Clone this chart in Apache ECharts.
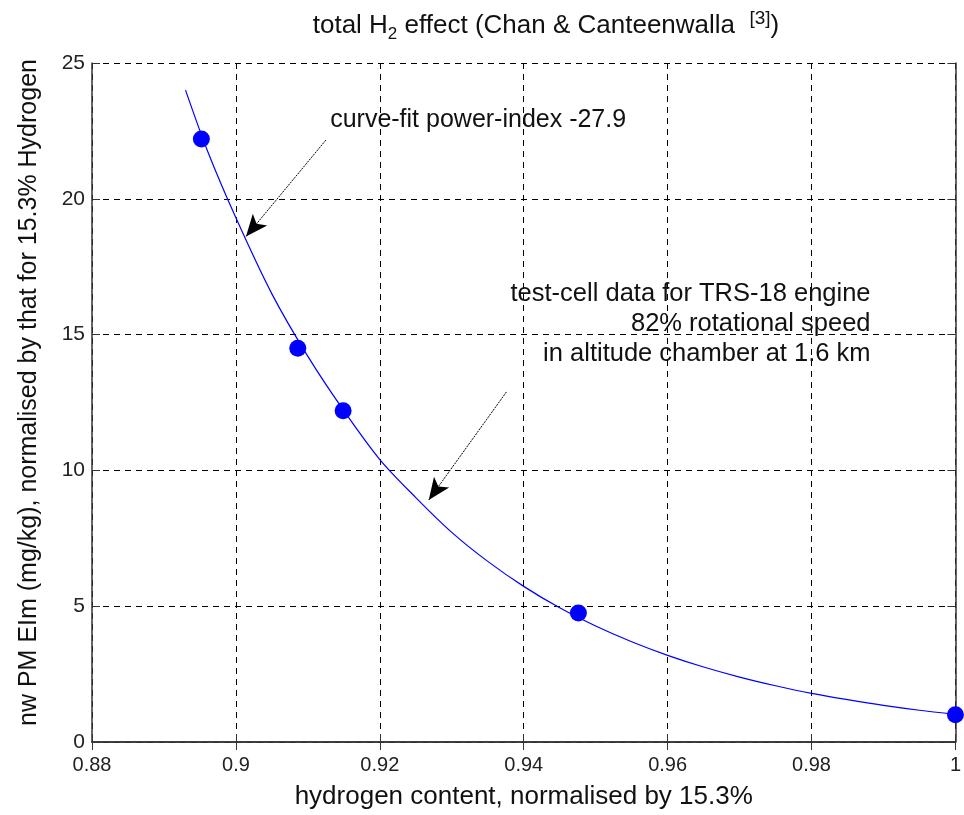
<!DOCTYPE html>
<html>
<head>
<meta charset="utf-8">
<script src="https://cdn.jsdelivr.net/npm/echarts@6/dist/echarts.min.js"></script>
<style>
  html, body { margin: 0; padding: 0; background: #fff; }
  #chart { width: 964px; height: 815px; }
</style>
</head>
<body>
<div id="chart"></div>
<script>
// Test-cell measurements: hydrogen content (normalised) vs normalised PM EI
const hydrogenData = [0.8952, 0.9086, 0.9149, 0.9476, 1.0];
const pmData = [22.2, 14.5, 12.2, 4.75, 1.0];

// Power-law curve fit, as plotted
const fitX = [0.893, 0.896, 0.9, 0.905, 0.91, 0.915, 0.92, 0.925, 0.93, 0.935, 0.94, 0.945,
              0.95, 0.955, 0.96, 0.965, 0.97, 0.975, 0.98, 0.985, 0.99, 0.995, 1.0];
const fitY = [24.0, 21.8, 19.3, 16.5, 14.2, 12.2, 10.4, 9.0, 7.72, 6.65, 5.73, 4.94,
              4.27, 3.69, 3.19, 2.76, 2.39, 2.07, 1.79, 1.56, 1.35, 1.17, 1.02];

const xTicks = [0.88, 0.9, 0.92, 0.94, 0.96, 0.98, 1];
const yTicks = [0, 5, 10, 15, 20, 25];

// Annotation arrows: [start, end] in data units
const fitArrow = [[0.9125, 22.16], [0.9014, 18.61]];
const dataArrow = [[0.9376, 12.89], [0.9268, 8.91]];

const chart = echarts.init(document.getElementById('chart'));

const textFont = "'Liberation Sans', Arial, sans-serif";

const gridDash = { color: '#000', width: 1, type: [6, 5] };
const frame = { show: true, lineStyle: { color: '#333', width: 1.5 } };
const innerTick = { show: true, inside: true, length: 8, lineStyle: { color: '#333' } };

function zip(a, b) { return a.map((v, i) => [v, b[i]]); }

const option = {
  animation: false,
  backgroundColor: '#fff',
  title: {
    text: 'total H{sub|2} effect (Chan & Canteenwalla  {sup|[3]})',
    left: 541,
    textAlign: 'center',
    top: 4,
    textStyle: {
      fontFamily: textFont,
      fontSize: 26,
      fontWeight: 'normal',
      color: '#111',
      lineHeight: 34,
      rich: {
        sub: { fontFamily: textFont, fontSize: 17, color: '#111', verticalAlign: 'bottom', lineHeight: 34, padding: [13, 0, 0, 0] },
        sup: { fontFamily: textFont, fontSize: 19, color: '#111', verticalAlign: 'top', lineHeight: 34, padding: [0, 0, 6, 0] }
      }
    }
  },
  grid: { left: 92, top: 63, right: 6, bottom: 73, containLabel: false },
  xAxis: [{
    type: 'value',
    min: xTicks[0],
    max: xTicks[xTicks.length - 1],
    interval: 0.02,
    name: 'hydrogen content, normalised by 15.3%',
    nameLocation: 'middle',
    nameGap: 42,
    nameTextStyle: { fontFamily: textFont, fontSize: 26, color: '#111' },
    axisLine: frame,
    axisTick: innerTick,
    axisLabel: { fontFamily: textFont, fontSize: 20, color: '#222', margin: 13 },
    splitLine: { show: true, lineStyle: gridDash }
  }, {
    type: 'value',
    position: 'top',
    min: xTicks[0],
    max: xTicks[xTicks.length - 1],
    interval: 0.02,
    axisLine: frame,
    axisTick: innerTick,
    axisLabel: { show: false },
    splitLine: { show: false }
  }],
  yAxis: [{
    type: 'value',
    min: yTicks[0],
    max: yTicks[yTicks.length - 1],
    interval: 5,
    name: 'nw PM EIm (mg/kg), normalised by that for 15.3% Hydrogen',
    nameLocation: 'middle',
    nameGap: 50,
    nameTextStyle: { fontFamily: textFont, fontSize: 25, color: '#111', padding: [0, 0, 0, 20] },
    axisLine: frame,
    axisTick: innerTick,
    axisLabel: { fontFamily: textFont, fontSize: 21, color: '#222', margin: 7 },
    splitLine: { show: true, lineStyle: gridDash }
  }, {
    type: 'value',
    position: 'right',
    min: yTicks[0],
    max: yTicks[yTicks.length - 1],
    interval: 5,
    axisLine: frame,
    axisTick: innerTick,
    axisLabel: { show: false },
    splitLine: { show: false }
  }],
  series: [{
    name: 'fit',
    type: 'line',
    data: zip(fitX, fitY),
    smooth: 0.3,
    showSymbol: false,
    lineStyle: { color: '#0000ff', width: 1.2 },
    z: 3,
    markLine: {
      silent: true,
      symbol: ['none', 'arrow'],
      symbolSize: [14, 22],
      label: { show: false },
      lineStyle: { color: '#000', width: 1, type: [2, 1] },
      itemStyle: { color: '#000' },
      data: [
        [{ coord: fitArrow[0] }, { coord: fitArrow[1] }],
        [{ coord: dataArrow[0] }, { coord: dataArrow[1] }]
      ]
    }
  }, {
    name: 'data',
    type: 'scatter',
    data: zip(hydrogenData, pmData),
    symbol: 'circle',
    symbolSize: 17,
    itemStyle: { color: '#0000ff', opacity: 1 },
    z: 4
  }]
};

chart.setOption(option);

// Annotation texts anchored to data positions
const p1 = chart.convertToPixel({ gridIndex: 0 }, [0.9131, 22.9]);
const p2 = chart.convertToPixel({ gridIndex: 0 }, [0.9882, 15.4]);
chart.setOption({
  graphic: [{
    type: 'text',
    x: p1[0], y: p1[1],
    style: {
      text: 'curve-fit power-index -27.9',
      font: '25px ' + textFont,
      fill: '#111',
      textAlign: 'left',
      textVerticalAlign: 'middle'
    },
    z: 10
  }, {
    type: 'text',
    x: p2[0], y: p2[1],
    style: {
      text: 'test-cell data for TRS-18 engine\n82% rotational speed\nin altitude chamber at 1.6 km',
      font: '25.5px ' + textFont,
      lineHeight: 30,
      fill: '#111',
      textAlign: 'right',
      textVerticalAlign: 'middle'
    },
    z: 10
  }]
});
</script>
</body>
</html>
